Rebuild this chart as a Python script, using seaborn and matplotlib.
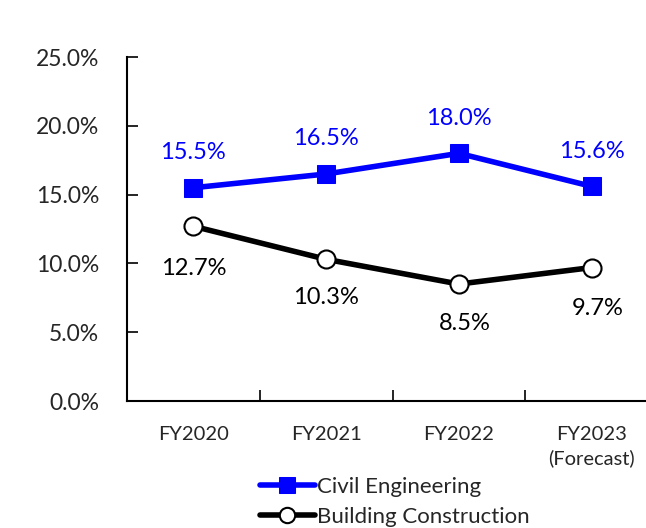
import matplotlib
matplotlib.use("Agg")
import matplotlib.pyplot as plt
import seaborn as sns
import pandas as pd

categories = ["FY2020", "FY2021", "FY2022", "FY2023\n(Forecast)"]
civil = [15.5, 16.5, 18.0, 15.6]
building = [12.7, 10.3, 8.5, 9.7]
yticks = [0, 5, 10, 15, 20, 25]

sns.set_style("white")
plt.rcParams["font.family"] = ["Lato", "DejaVu Sans"]

fig = plt.figure(figsize=(6.46, 5.28), dpi=100)
ax = fig.add_axes([0.1966, 0.2405, 0.822, 0.6515])

x = list(range(len(categories)))
df = pd.DataFrame({"x": x, "Civil Engineering": civil, "Building Construction": building})

sns.lineplot(data=df, x="x", y="Civil Engineering", ax=ax, color="blue", linewidth=4,
             marker="s", markersize=13, markeredgecolor="blue", label="Civil Engineering")
sns.lineplot(data=df, x="x", y="Building Construction", ax=ax, color="black", linewidth=4,
             marker="o", markersize=13, markerfacecolor="white", markeredgecolor="black",
             markeredgewidth=1.5, label="Building Construction")

# data labels
for xi, v in zip(x, civil):
    ax.annotate(f"{v:.1f}%", (xi, v), xytext=(0, 35), textcoords="offset pixels",
                ha="center", va="center", color="blue", fontsize=17)
offs = [(0, -42), (0, -38), (6, -39), (6, -41)]
for xi, v, o in zip(x, building, offs):
    ax.annotate(f"{v:.1f}%", (xi, v), xytext=o, textcoords="offset pixels",
                ha="center", va="center", color="black", fontsize=17)

ax.set_xlim(-0.5, 3.5)
ax.set_ylim(0, 25)
ax.set_yticks(yticks)
ax.set_yticklabels([f"{t:.1f}%" for t in yticks], fontsize=16.5)
ax.set_xticks(x)
ax.set_xticklabels(categories, fontsize=14.5, linespacing=1.4)
ax.set_xticks([0.5, 1.5, 2.5], minor=True)
ax.tick_params(axis="x", which="major", length=0, pad=18)
ax.tick_params(axis="x", which="minor", direction="in", length=8, width=1.2, color="black", bottom=True)
ax.tick_params(axis="y", direction="in", length=8, width=1.2, color="black", left=True, pad=20)
ax.set_xlabel("")
ax.set_ylabel("")

for s in ["top", "right"]:
    ax.spines[s].set_visible(False)
for s in ["left", "bottom"]:
    ax.spines[s].set_color("black")
    ax.spines[s].set_linewidth(1.5)

handles, labels = ax.get_legend_handles_labels()
ax.get_legend().remove()
fig.legend(handles, labels, loc="center", bbox_to_anchor=(0.611, 0.05), frameon=False,
           fontsize=16, handlelength=2.5, handletextpad=0.1, labelspacing=0.45,
           markerscale=0.85)

fig.savefig("out.png", dpi=100)
